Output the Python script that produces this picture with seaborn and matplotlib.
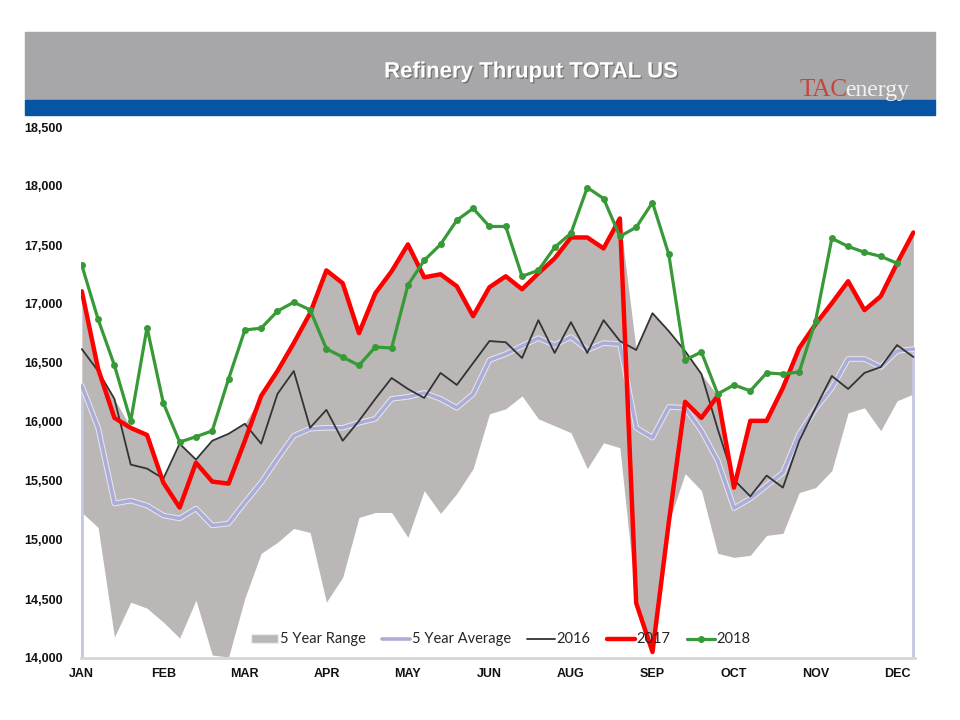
"""
Refinery Thruput TOTAL US - weekly chart, 5 year range / average vs 2016-2018
"""

import numpy as np
import pandas as pd
import matplotlib
matplotlib.use('Agg')
import matplotlib.pyplot as plt
import matplotlib.patheffects as pe
from matplotlib.patches import Rectangle, Patch
from matplotlib.lines import Line2D
import seaborn as sns

# Weekly values (kb/d)
weeks = list(range(52))
month_ticks = list(range(0, 51, 5))
month_labels = ['JAN', 'FEB', 'MAR', 'APR', 'MAY', 'JUN', 'AUG', 'SEP', 'OCT', 'NOV', 'DEC']

range_low = [15233, 15106, 14177, 14473, 14422, 14304, 14169, 14490, 14025, 14008,
             14507, 14887, 14980, 15098, 15064, 14473, 14684, 15191, 15233, 15233,
             15022, 15419, 15225, 15394, 15605, 16069, 16112, 16221, 16027, 15968,
             15909, 15605, 15824, 15782, 14465, 14051, 15150, 15563, 15419, 14887,
             14853, 14870, 15039, 15056, 15402, 15444, 15588, 16078, 16120, 15926,
             16179, 16238]
range_high = [17108, 16430, 16196, 15950, 15890, 15520, 15816, 15681, 15841, 15900,
              15985, 16221, 16432, 16669, 16922, 17285, 17176, 16753, 17091, 17277,
              17505, 17226, 17252, 17150, 16897, 17142, 17235, 17125, 17260, 17387,
              17564, 17564, 17471, 17725, 16610, 16922, 16770, 16601, 16407, 16221,
              15520, 16010, 16010, 16290, 16627, 16829, 17007, 17193, 16948, 17066,
              17345, 17606]
avg_5yr = [16306, 15951, 15309, 15334, 15292, 15208, 15182, 15267, 15123, 15140,
           15318, 15486, 15689, 15883, 15943, 15951, 15951, 15993, 16027, 16196,
           16213, 16247, 16196, 16120, 16238, 16525, 16576, 16644, 16711, 16652,
           16720, 16610, 16669, 16660, 15951, 15867, 16128, 16120, 15926, 15672,
           15270, 15351, 15461, 15571, 15900, 16112, 16289, 16534, 16534, 16466,
           16601, 16618]
y2016 = [16618, 16432, 16196, 15639, 15605, 15520, 15816, 15681, 15841, 15900,
         15985, 15816, 16238, 16432, 15951, 16103, 15841, 16010, 16196, 16373,
         16280, 16204, 16416, 16314, 16500, 16686, 16676, 16542, 16863, 16585,
         16846, 16585, 16863, 16686, 16610, 16922, 16770, 16601, 16407, 15940,
         15510, 15370, 15546, 15444, 15841, 16120, 16390, 16280, 16416, 16466,
         16652, 16551]
y2017 = [17108, 16450, 16035, 15950, 15890, 15486, 15275, 15655, 15495, 15478,
         15841, 16221, 16432, 16669, 16922, 17285, 17176, 16753, 17091, 17277,
         17505, 17226, 17252, 17150, 16897, 17142, 17235, 17125, 17260, 17387,
         17564, 17564, 17471, 17725, 14465, 14051, 15150, 16171, 16035, 16221,
         15444, 16010, 16010, 16290, 16627, 16829, 17007, 17193, 16948, 17066,
         17345, 17606]
y2018 = [17328, 16870, 16480, 16010, 16800, 16160, 15830, 15875, 15925, 16365,
         16780, 16795, 16940, 17015, 16950, 16620, 16550, 16480, 16635, 16627,
         17160, 17370, 17505, 17710, 17810, 17657, 17657, 17235, 17285, 17480,
         17600, 17987, 17894, 17573, 17650, 17860, 17420, 16525, 16593, 16238,
         16314, 16264, 16416, 16407, 16424, 16855, 17556, 17488, 17438, 17404,
         17345, np.nan]

GRAY_FILL = '#bbb7b7'
LAVENDER = '#abadd6'
RED = '#ff0000'
GREEN = '#379a37'

sns.set_style("white")
plt.rcParams['font.family'] = ['Liberation Sans', 'DejaVu Sans']

df = pd.DataFrame({'week': weeks, 'low': range_low, 'high': range_high,
                   'avg': avg_5yr, '2016': y2016, '2017': y2017, '2018': y2018})

fig = plt.figure(figsize=(9.6, 7.2), dpi=100)

# header banner
fig.patches.append(Rectangle((25 / 960, 1 - 100 / 720), 910 / 960, 68 / 720,
                             transform=fig.transFigure, color='#a7a7a9', zorder=0))
fig.patches.append(Rectangle((25 / 960, 1 - 115 / 720), 910 / 960, 15 / 720,
                             transform=fig.transFigure, color='#0654a3', zorder=0))
fig.text(531 / 960, 1 - 72 / 720, 'Refinery Thruput TOTAL US', ha='center', va='center',
         color='white', fontsize=16, fontweight='bold',
         path_effects=[pe.withSimplePatchShadow(offset=(1, -1), shadow_rgbFace='#555555', alpha=0.6)])
fig.text(800 / 960, 1 - 96 / 720, 'TAC', family='Liberation Serif', color='#c8453c',
         fontsize=18, va='baseline', ha='left')
fig.text(845 / 960, 1 - 96 / 720, 'energy', family='Liberation Serif', color='#f2f2f2',
         fontsize=17, va='baseline', ha='left')

ax = fig.add_axes([81 / 960, 1 - 658 / 720, 834 / 960, 531 / 720])

# 5 year range band
ax.fill_between(df['week'], df['low'], df['high'], color=GRAY_FILL, lw=0, zorder=1)
ax.vlines([0, 51], 14000, [avg_5yr[0], avg_5yr[-1]], color='#c4c5e2', lw=2, zorder=2)

# 5 year average with a soft light halo
sns.lineplot(data=df, x='week', y='avg', ax=ax, color='#e8e8f2', lw=4.0, zorder=2, legend=False)
sns.lineplot(data=df, x='week', y='avg', ax=ax, color=LAVENDER, lw=2.6, zorder=3, legend=False)
sns.lineplot(data=df, x='week', y='2016', ax=ax, color='#333333', lw=1.3, zorder=4, legend=False)
sns.lineplot(data=df, x='week', y='2017', ax=ax, color=RED, lw=3.2, zorder=5, legend=False)
sns.lineplot(data=df, x='week', y='2018', ax=ax, color=GREEN, lw=2.3, marker='o',
             markersize=5, markeredgewidth=0, zorder=6, legend=False)

ax.set_xlim(-0.05, 51.1)
ax.set_ylim(14000, 18500)
ax.set_xticks(month_ticks)
ax.set_xticklabels(month_labels, fontsize=9, fontweight='bold')
yt = list(range(14000, 18501, 500))
ax.set_yticks(yt)
ax.set_yticklabels([f'{v:,}' for v in yt], fontsize=9, fontweight='bold')
ax.tick_params(axis='both', length=0, colors='#111111')
ax.tick_params(axis='y', pad=13)
ax.tick_params(axis='x', pad=7)
ax.set_xlabel('')
ax.set_ylabel('')

for side in ['top', 'right', 'left']:
    ax.spines[side].set_visible(False)
ax.spines['bottom'].set_color('#d6d6d6')
ax.spines['bottom'].set_linewidth(2)

handles = [
    Patch(facecolor=GRAY_FILL, edgecolor='#ececf4', lw=1),
    Line2D([], [], color=LAVENDER, lw=2.6),
    Line2D([], [], color='#333333', lw=1.3),
    Line2D([], [], color=RED, lw=3.2),
    Line2D([], [], color=GREEN, lw=2.3, marker='o', markersize=5, markeredgewidth=0),
]
labels = ['5 Year Range', '5 Year Average', '2016', '2017', '2018']
ax.legend(handles, labels, loc='lower center', bbox_to_anchor=(0.503, -0.003), ncol=5,
          frameon=False, prop={'family': ['Lato', 'DejaVu Sans'], 'size': 10.5},
          handlelength=1.9, handleheight=0.6, handletextpad=0.1, columnspacing=1.15)

fig.savefig('out.png', dpi=100)
